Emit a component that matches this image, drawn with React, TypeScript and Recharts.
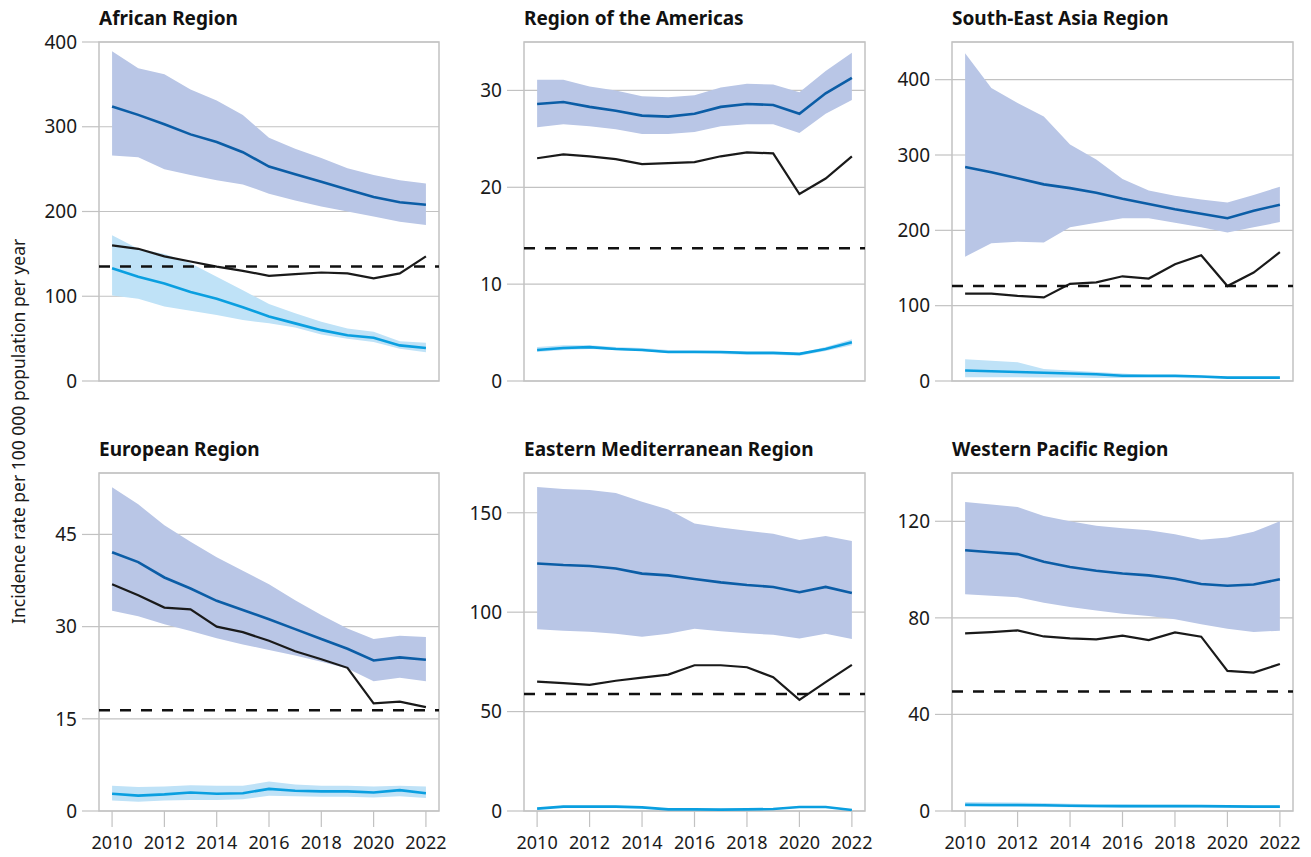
import React from "react";
import {
  ComposedChart,
  Line,
  Area,
  XAxis,
  YAxis,
  CartesianGrid,
  ReferenceLine,
  ReferenceArea,
} from "recharts";

const years = [2010, 2011, 2012, 2013, 2014, 2015, 2016, 2017, 2018, 2019, 2020, 2021, 2022];
const yearTicks = [2010, 2012, 2014, 2016, 2018, 2020, 2022];

// African Region
const afrInc = [324, 314, 303, 291, 282, 270, 253, 244, 235, 226, 217, 211, 208];
const afrIncHi = [389, 369, 362, 344, 331, 314, 287, 274, 263, 251, 243, 237, 233];
const afrIncLo = [266, 264, 250, 243, 237, 232, 221, 213, 206, 200, 194, 188, 184];
const afrNotif = [160, 156, 147, 141, 135, 130, 124, 126, 128, 127, 121, 127, 147];
const afrHiv = [133, 123, 115, 105, 97, 87, 76, 68, 60, 54, 51, 42, 39];
const afrHivHi = [172, 156, 150, 139, 123, 107, 91, 80, 70, 62, 58, 47, 45];
const afrHivLo = [101, 97, 88, 83, 78, 72, 68, 63, 55, 50, 46, 38, 34];

// Region of the Americas
const amrInc = [28.6, 28.8, 28.3, 27.9, 27.4, 27.3, 27.6, 28.3, 28.6, 28.5, 27.6, 29.7, 31.3];
const amrIncHi = [31.1, 31.1, 30.4, 30.0, 29.4, 29.3, 29.5, 30.3, 30.7, 30.6, 29.8, 32.0, 33.9];
const amrIncLo = [26.2, 26.5, 26.3, 26.0, 25.5, 25.5, 25.7, 26.3, 26.5, 26.5, 25.6, 27.6, 29.0];
const amrNotif = [23.0, 23.4, 23.2, 22.9, 22.4, 22.5, 22.6, 23.2, 23.6, 23.5, 19.3, 20.9, 23.2];
const amrHiv = [3.2, 3.4, 3.5, 3.3, 3.2, 3.0, 3.0, 3.0, 2.9, 2.9, 2.8, 3.3, 4.0];
const amrHivHi = [3.5, 3.7, 3.7, 3.5, 3.4, 3.2, 3.2, 3.1, 3.0, 3.0, 2.9, 3.5, 4.3];
const amrHivLo = [3.0, 3.2, 3.3, 3.2, 3.1, 2.9, 2.9, 2.8, 2.7, 2.7, 2.6, 3.1, 3.7];

// South-East Asia Region
const searInc = [284, 277, 269, 261, 256, 250, 242, 235, 228, 222, 216, 226, 234];
const searIncHi = [435, 389, 369, 351, 314, 294, 268, 253, 246, 241, 237, 247, 258];
const searIncLo = [165, 183, 185, 184, 204, 210, 216, 216, 210, 204, 197, 204, 211];
const searNotif = [116, 116, 113, 111, 129, 131, 139, 136, 155, 167, 126, 144, 171];
const searHiv = [14, 13, 12, 11, 10, 9, 7, 7, 7, 6, 4.5, 4.5, 4.5];
const searHivHi = [29, 27, 25, 16, 14, 12, 10, 8, 8, 7, 5.5, 5.5, 5.5];
const searHivLo = [5, 5, 5, 4.5, 4.5, 4, 4, 4, 4, 3.5, 3.5, 3.5, 3.5];

// European Region
const eurInc = [42.1, 40.5, 38.0, 36.2, 34.2, 32.7, 31.2, 29.6, 28.0, 26.4, 24.5, 25.0, 24.6];
const eurIncHi = [52.7, 49.9, 46.5, 43.8, 41.3, 39.1, 36.9, 34.3, 31.9, 29.7, 28.0, 28.5, 28.3];
const eurIncLo = [32.6, 31.7, 30.4, 29.3, 28.1, 27.1, 26.2, 25.3, 24.3, 23.2, 21.1, 21.7, 21.1];
const eurNotif = [36.9, 35.1, 33.1, 32.8, 30.0, 29.1, 27.7, 26.0, 24.7, 23.3, 17.5, 17.8, 16.9];
const eurHiv = [2.8, 2.5, 2.7, 3.0, 2.8, 2.9, 3.6, 3.3, 3.2, 3.2, 3.0, 3.4, 2.9];
const eurHivHi = [4.1, 3.9, 4.0, 4.2, 4.1, 4.1, 4.8, 4.3, 4.1, 4.1, 4.0, 4.1, 4.0];
const eurHivLo = [1.7, 1.5, 1.7, 1.8, 1.8, 1.9, 2.5, 2.4, 2.3, 2.3, 2.2, 2.4, 2.1];

// Eastern Mediterranean Region
const emrInc = [124.5, 123.7, 123.2, 122.0, 119.4, 118.5, 116.7, 115.0, 113.7, 112.7, 110.0, 112.7, 109.6];
const emrIncHi = [162.9, 162.0, 161.4, 160.0, 155.5, 151.7, 144.6, 142.6, 141.0, 139.4, 136.3, 138.3, 135.8];
const emrIncLo = [91.4, 90.7, 90.1, 89.1, 87.7, 89.1, 91.7, 90.4, 89.4, 88.6, 86.7, 89.2, 86.5];
const emrNotif = [65.1, 64.3, 63.4, 65.5, 67.1, 68.6, 73.3, 73.3, 72.3, 67.3, 55.9, 64.8, 73.5];
const emrHiv = [1.2, 2.2, 2.2, 2.2, 1.8, 0.8, 0.8, 0.7, 0.8, 1.0, 2.0, 2.0, 0.5];
const emrHivHi = [1.6, 2.6, 2.6, 2.6, 2.2, 1.2, 1.2, 1.1, 1.2, 1.4, 2.4, 2.4, 0.9];
const emrHivLo = [0.9, 1.9, 1.9, 1.9, 1.5, 0.5, 0.5, 0.4, 0.5, 0.7, 1.7, 1.7, 0.2];

// Western Pacific Region
const wprInc = [108.0, 107.2, 106.4, 103.2, 101.1, 99.5, 98.4, 97.6, 96.2, 94.0, 93.3, 93.8, 96.0];
const wprIncHi = [128.0, 127.0, 125.9, 122.2, 120.0, 118.2, 117.1, 116.3, 114.6, 112.4, 113.3, 115.7, 120.0];
const wprIncLo = [89.8, 89.2, 88.5, 86.3, 84.5, 83.0, 81.7, 80.8, 79.4, 77.4, 75.5, 74.1, 74.7];
const wprNotif = [73.6, 74.1, 74.8, 72.3, 71.5, 71.1, 72.6, 70.8, 74.0, 72.2, 58.0, 57.3, 60.9];
const wprHiv = [2.6, 2.5, 2.5, 2.4, 2.2, 2.1, 2.0, 2.0, 2.0, 2.0, 1.9, 1.8, 1.8];
const wprHivHi = [3.7, 3.6, 3.5, 3.3, 3.0, 2.8, 2.7, 2.6, 2.6, 2.5, 2.4, 2.3, 2.3];
const wprHivLo = [1.8, 1.8, 1.7, 1.7, 1.6, 1.5, 1.5, 1.5, 1.5, 1.4, 1.4, 1.3, 1.3];

// 2025 milestone levels (dashed)
const milestones = [135, 13.7, 126, 16.4, 58.9, 49.5];
const regionNames = [
  "African Region",
  "Region of the Americas",
  "South-East Asia Region",
  "European Region",
  "Eastern Mediterranean Region",
  "Western Pacific Region",
];
const yMax = [400, 35, 450, 55, 170, 140];
const yTicks = [
  [0, 100, 200, 300, 400],
  [0, 10, 20, 30],
  [0, 100, 200, 300, 400],
  [0, 15, 30, 45],
  [0, 50, 100, 150],
  [0, 40, 80, 120],
];

const series = [
  [afrInc, afrIncLo, afrIncHi, afrNotif, afrHiv, afrHivLo, afrHivHi],
  [amrInc, amrIncLo, amrIncHi, amrNotif, amrHiv, amrHivLo, amrHivHi],
  [searInc, searIncLo, searIncHi, searNotif, searHiv, searHivLo, searHivHi],
  [eurInc, eurIncLo, eurIncHi, eurNotif, eurHiv, eurHivLo, eurHivHi],
  [emrInc, emrIncLo, emrIncHi, emrNotif, emrHiv, emrHivLo, emrHivHi],
  [wprInc, wprIncLo, wprIncHi, wprNotif, wprHiv, wprHivLo, wprHivHi],
];

const FONT = "'Noto Sans', sans-serif";
const GRID = "#c2c2c2";
const TEXT = "#1a1a1a";

const plotLefts = [99, 524, 952];
const plotWidths = [340, 341, 341];
const plotTops = [42, 473];
const plotHeights = [339, 338];
const Y_W = 62;
const X_H = 50;
const M_TOP = 16;
const M_RIGHT = 18;

function Panel({ idx }: { idx: number }) {
  const col = idx % 3;
  const row = Math.floor(idx / 3);
  const [inc, lo, hi, notif, hiv, hivLo, hivHi] = series[idx];
  const data = years.map((year, i) => ({
    year,
    inc: inc[i],
    band: [lo[i], hi[i]],
    notif: notif[i],
    hiv: hiv[i],
    hivBand: [hivLo[i], hivHi[i]],
  }));
  const bottom = row === 1;
  const left = plotLefts[col] - Y_W;
  const top = plotTops[row] - M_TOP;
  const width = Y_W + plotWidths[col] + M_RIGHT;
  const height = M_TOP + plotHeights[row] + X_H;

  return (
    <>
      <div
        style={{
          position: "absolute",
          left: plotLefts[col],
          top: plotTops[row] - 33,
          fontSize: 19,
          lineHeight: "19px",
          fontWeight: 700,
          color: "#111",
          whiteSpace: "nowrap",
        }}
      >
        {regionNames[idx]}
      </div>
      <div style={{ position: "absolute", left, top }}>
        <ComposedChart
          width={width}
          height={height}
          data={data}
          margin={{ top: M_TOP, right: M_RIGHT, bottom: 0, left: 0 }}
        >
          <CartesianGrid vertical={false} stroke={GRID} strokeWidth={1.2} />
          <XAxis
            dataKey="year"
            type="number"
            domain={[2009.5, 2022.5]}
            ticks={yearTicks}
            interval={0}
            height={X_H}
            axisLine={false}
            tick={bottom ? { fill: TEXT, fontSize: 18, fontFamily: FONT } : false}
            tickLine={bottom ? { stroke: GRID, strokeWidth: 1.2 } : false}
            tickSize={16}
            tickMargin={9}
          />
          <YAxis
            type="number"
            domain={[0, yMax[idx]]}
            ticks={yTicks[idx]}
            interval={0}
            width={Y_W}
            axisLine={false}
            tick={{ fill: TEXT, fontSize: 19, fontFamily: FONT }}
            tickLine={{ stroke: GRID, strokeWidth: 1.2 }}
            tickSize={17}
            tickMargin={5}
          />
          <ReferenceArea
            x1={2009.5}
            x2={2022.5}
            y1={0}
            y2={yMax[idx]}
            fill="none"
            stroke={GRID}
            strokeWidth={1.5}
            ifOverflow="visible"
          />
          <Area
            dataKey="band"
            type="linear"
            stroke="none"
            fill="#b9c6e6"
            fillOpacity={1}
            isAnimationActive={false}
            activeDot={false}
          />
          <Area
            dataKey="hivBand"
            type="linear"
            stroke="none"
            fill="#bfe2f7"
            fillOpacity={1}
            isAnimationActive={false}
            activeDot={false}
          />
          <Line
            dataKey="inc"
            type="linear"
            stroke="#0b5da6"
            strokeWidth={2.6}
            dot={false}
            isAnimationActive={false}
          />
          <Line
            dataKey="hiv"
            type="linear"
            stroke="#0a9fe0"
            strokeWidth={2.6}
            dot={false}
            isAnimationActive={false}
          />
          <Line
            dataKey="notif"
            type="linear"
            stroke="#1a1a1a"
            strokeWidth={2.2}
            dot={false}
            isAnimationActive={false}
          />
          <ReferenceLine
            y={milestones[idx]}
            stroke="#111"
            strokeWidth={2.5}
            strokeDasharray="11 10"
          />
        </ComposedChart>
      </div>
    </>
  );
}

export default function App() {
  return (
    <div
      style={{
        position: "absolute",
        left: 0,
        top: 0,
        width: 1311,
        height: 857,
        background: "#fff",
        fontFamily: FONT,
        color: TEXT,
      }}
    >
      <div
        style={{
          position: "absolute",
          left: 7,
          top: 200,
          width: 22,
          height: 463,
          writingMode: "vertical-rl",
          transform: "rotate(180deg)",
          textAlign: "center",
          whiteSpace: "nowrap",
          fontSize: 17.5,
          lineHeight: "22px",
        }}
      >
        Incidence rate per 100 000 population per year
      </div>
      {[0, 1, 2, 3, 4, 5].map((i) => (
        <Panel key={i} idx={i} />
      ))}
    </div>
  );
}
